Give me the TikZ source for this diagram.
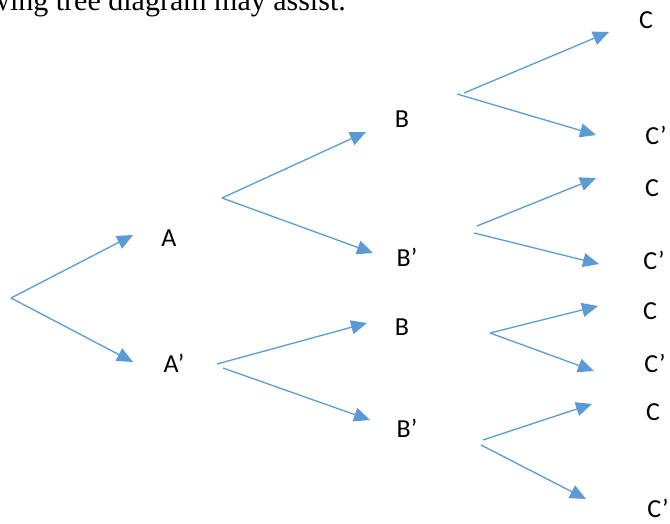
\documentclass[tikz,border=0pt]{standalone}
\usepackage{fontspec}
\setmainfont{Carlito}
\newfontfamily\timesfont{Liberation Serif}
\usetikzlibrary{arrows.meta}
\definecolor{obl}{HTML}{5B9BD5}
\tikzset{
  br/.style={draw=obl, line width=1.3pt, -{Triangle[length=16pt,width=14pt]}, fill=none},
  lbl/.style={inner sep=0pt, font=\fontsize{26}{30}\selectfont, text=black}
}
\begin{document}
\begin{tikzpicture}[x=1pt,y=-1pt]
\useasboundingbox (0,0) rectangle (670,524);
\clip (0,0) rectangle (670,524);
\node[inner sep=0pt, anchor=base east, font=\timesfont\fontsize{30}{34}\selectfont] (hdr) at (346,11) {wing tree diagram may assist.};
% labels
\node[lbl] (A) at (169,238) {A};
\node[lbl] (Ap) at (174,363) {A’};
\node[lbl] (B1) at (402,119) {B};
\node[lbl] (Bp1) at (407,257) {B’};
\node[lbl] (B2) at (402,327) {B};
\node[lbl] (Bp2) at (407,428) {B’};
\node[lbl] (C1) at (646,20) {C};
\node[lbl] (Cp1) at (656,135) {C’};
\node[lbl] (C2) at (652,188) {C};
\node[lbl] (Cp2) at (654,260) {C’};
\node[lbl] (C3) at (650,311) {C};
\node[lbl] (Cp3) at (655,363) {C’};
\node[lbl] (C4) at (653,412) {C};
\node[lbl] (Cp4) at (658,508) {C’};
% start and tip points
\coordinate (r) at (11,298);
\coordinate (tA) at (133,235);
\coordinate (tAp) at (133,362);
\coordinate (sA) at (222,198);
\coordinate (tB1) at (366,132);
\coordinate (tBp1) at (373,253);
\coordinate (sAp1) at (217,364);
\coordinate (sAp2) at (223,368);
\coordinate (tB2) at (367,323);
\coordinate (tBp2) at (370,420);
\coordinate (sB1a) at (464,93);
\coordinate (sB1b) at (457,94);
\coordinate (tC1) at (609,32);
\coordinate (tCp1) at (596,135);
\coordinate (sBp1a) at (477,226);
\coordinate (sBp1b) at (474,233);
\coordinate (tC2) at (596,178);
\coordinate (tCp2) at (599,264);
\coordinate (sB2) at (490,333);
\coordinate (tC3) at (598,306);
\coordinate (tCp3) at (594,371);
\coordinate (sBp2a) at (483,440);
\coordinate (sBp2b) at (481,445);
\coordinate (tC4) at (592,404);
\coordinate (tCp4) at (586,499);
% branches
\draw[br] (r) -- (tA);
\draw[br] (r) -- (tAp);
\draw[br] (sA) -- (tB1);
\draw[br] (sA) -- (tBp1);
\draw[br] (sAp1) -- (tB2);
\draw[br] (sAp2) -- (tBp2);
\draw[br] (sB1a) -- (tC1);
\draw[br] (sB1b) -- (tCp1);
\draw[br] (sBp1a) -- (tC2);
\draw[br] (sBp1b) -- (tCp2);
\draw[br] (sB2) -- (tC3);
\draw[br] (sB2) -- (tCp3);
\draw[br] (sBp2a) -- (tC4);
\draw[br] (sBp2b) -- (tCp4);
\end{tikzpicture}
\end{document}
